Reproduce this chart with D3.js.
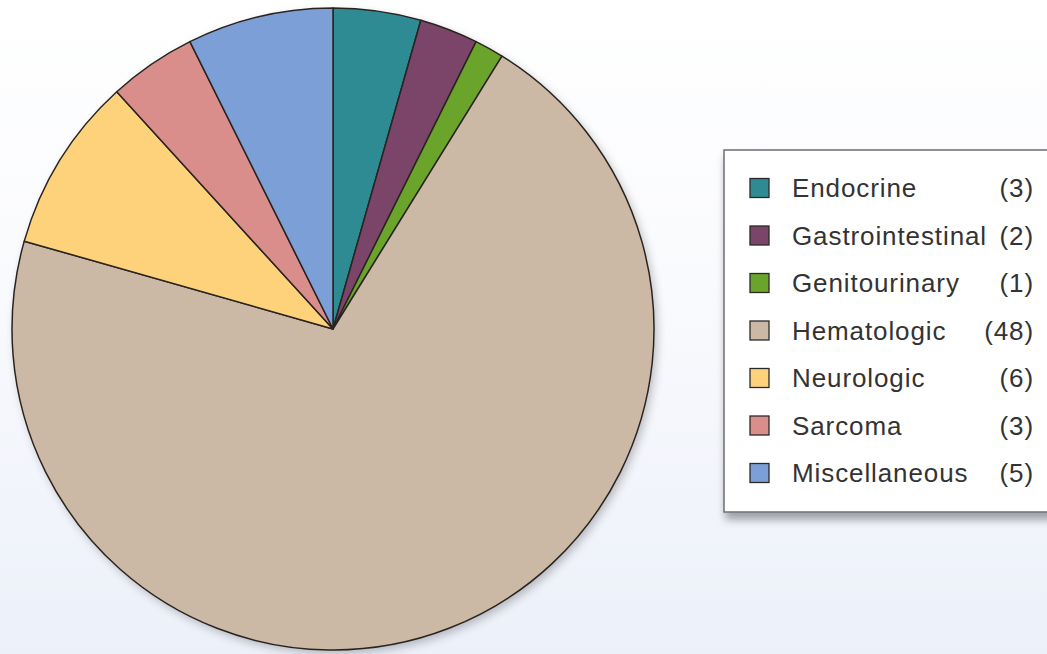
<!DOCTYPE html>
<html>
<head>
<meta charset="utf-8">
<script src="https://cdn.jsdelivr.net/npm/d3@7/dist/d3.min.js"></script>
<style>
html,body{margin:0;padding:0;overflow:hidden;}
svg{display:block;}
</style>
</head>
<body>
<svg id="chart" width="1047" height="654"></svg>
<script>
const categories = ["Endocrine","Gastrointestinal","Genitourinary","Hematologic","Neurologic","Sarcoma","Miscellaneous"];
const counts = [3,2,1,48,6,3,5];
const colors = ["#2e8b93","#7b4469","#6ba42b","#cbb9a6","#fdd27b","#da8e8b","#7c9fd7"];

const svg = d3.select("#chart");
const W = 1047, H = 654;
const defs = svg.append("defs");
const bg = defs.append("linearGradient").attr("id","bg").attr("x1",0).attr("y1",0).attr("x2",0).attr("y2",1);
bg.append("stop").attr("offset","0%").attr("stop-color","#ffffff");
bg.append("stop").attr("offset","45%").attr("stop-color","#f9fafd");
bg.append("stop").attr("offset","100%").attr("stop-color","#ecf0f9");
const sh = defs.append("filter").attr("id","sh").attr("x","-10%").attr("y","-10%").attr("width","120%").attr("height","120%");
sh.append("feGaussianBlur").attr("in","SourceAlpha").attr("stdDeviation",5);
sh.append("feOffset").attr("dx",3).attr("dy",4).attr("result","b");
sh.append("feComponentTransfer").append("feFuncA").attr("type","linear").attr("slope",0.25);
const m = sh.append("feMerge"); m.append("feMergeNode"); m.append("feMergeNode").attr("in","SourceGraphic");

const lsh = defs.append("filter").attr("id","lsh").attr("x","-10%").attr("y","-10%").attr("width","130%").attr("height","130%");
lsh.append("feGaussianBlur").attr("in","SourceAlpha").attr("stdDeviation",4);
lsh.append("feOffset").attr("dx",2).attr("dy",7).attr("result","b");
lsh.append("feComponentTransfer").append("feFuncA").attr("type","linear").attr("slope",0.35);
const m2 = lsh.append("feMerge"); m2.append("feMergeNode"); m2.append("feMergeNode").attr("in","SourceGraphic");

svg.append("rect").attr("width",W).attr("height",H).attr("fill","url(#bg)");

const cx = 333, cy = 329, R = 321;
const pie = d3.pie().sort(null).value(d => d.v);
const data = categories.map((c,i)=>({c, v:counts[i], col:colors[i]}));
const arc = d3.arc().innerRadius(0).outerRadius(R);
const g = svg.append("g").attr("transform",`translate(${cx},${cy})`);
g.append("circle").attr("r",R).attr("fill","#cbb9a6").attr("filter","url(#sh)");
g.selectAll("path").data(pie(data)).join("path")
  .attr("d",arc).attr("fill",d=>d.data.col)
  .attr("stroke","#2a2420").attr("stroke-width",1.5).attr("stroke-linejoin","round");

// legend
const lx = 724, ly = 150, lw = 340, lh = 362;
const lg = svg.append("g");
lg.append("rect").attr("x",lx).attr("y",ly).attr("width",lw).attr("height",lh)
  .attr("fill","#ffffff").attr("stroke","#6d6d78").attr("stroke-width",1.5).attr("filter","url(#lsh)");
const y = d3.scalePoint().domain(categories).range([188,473]);
const rows = lg.selectAll("g.row").data(data).join("g").attr("class","row")
  .attr("transform",d=>`translate(0,${y(d.c)})`);
rows.append("rect").attr("x",750).attr("y",-9.5).attr("width",19).attr("height",19)
  .attr("fill",d=>d.col).attr("stroke","#2a2a2a").attr("stroke-width",1.3);
rows.append("text").attr("x",792).attr("y",0).attr("dy","0.35em")
  .attr("font-family","Liberation Sans, Arial, sans-serif").attr("font-size",26)
  .attr("letter-spacing","0.9px").attr("fill","#333333").text(d=>d.c);
rows.append("text").attr("x",1034).attr("y",0).attr("dy","0.35em").attr("text-anchor","end")
  .attr("font-family","Liberation Sans, Arial, sans-serif").attr("font-size",26)
  .attr("letter-spacing","0.9px").attr("fill","#333333").text(d=>`(${d.v})`);
</script>
</body>
</html>
